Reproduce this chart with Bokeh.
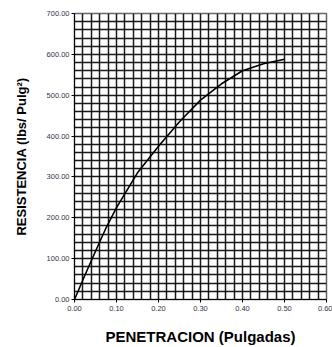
import numpy as np
from bokeh.plotting import figure
from bokeh.models import FixedTicker, PrintfTickFormatter, Range1d
from bokeh.embed import file_html
from bokeh.resources import INLINE

# Penetration (inches) and resistance (lbs/in^2) of the load curve
penetracion = [0.000, 0.025, 0.050, 0.075, 0.100, 0.150, 0.200, 0.250, 0.300, 0.350, 0.400, 0.450, 0.500]
resistencia = [0, 60, 118, 175, 225, 310, 375, 435, 488, 528, 560, 577, 588]

x_ticks = [0.0, 0.1, 0.2, 0.3, 0.4, 0.5, 0.6]
y_ticks = [0, 100, 200, 300, 400, 500, 600, 700]

FONT = "Liberation Sans"

p = figure(width=332, height=347, output_backend="svg", toolbar_location=None,
           x_range=Range1d(0, 0.6), y_range=Range1d(0, 700),
           min_border_left=74, min_border_right=6, min_border_top=13, min_border_bottom=47)
p.background_fill_color = "white"
p.border_fill_color = "white"
p.outline_line_color = "#666666"
p.outline_line_width = 1.5

# dense graph-paper grid
p.xgrid.ticker = FixedTicker(ticks=list(np.round(np.arange(0, 0.6001, 0.02), 3)))
p.ygrid.ticker = FixedTicker(ticks=list(np.arange(0, 701, 20)))
for g in (p.xgrid, p.ygrid):
    g.grid_line_color = "black"
    g.grid_line_width = 1.5
    g.grid_line_alpha = 0.9

p.xaxis.ticker = FixedTicker(ticks=x_ticks)
p.yaxis.ticker = FixedTicker(ticks=y_ticks)
p.xaxis.formatter = PrintfTickFormatter(format="%.2f")
p.yaxis.formatter = PrintfTickFormatter(format="%.2f")

for ax in (p.xaxis, p.yaxis):
    ax.axis_line_color = "black"
    ax.major_tick_line_color = "black"
    ax.major_tick_out = 3
    ax.major_tick_in = 0
    ax.minor_tick_line_color = None
    ax.major_label_text_font = FONT
    ax.major_label_text_font_size = "7.5px"
    ax.major_label_text_color = "#333344"
    ax.axis_label_text_font = FONT
    ax.axis_label_text_font_style = "bold"
    ax.axis_label_text_color = "black"

p.xaxis.axis_label = "PENETRACION (Pulgadas)"
p.xaxis.axis_label_text_font_size = "15px"
p.xaxis.axis_label_standoff = 14
p.xaxis.major_label_standoff = 3

p.yaxis.axis_label = "RESISTENCIA (lbs/ Pulg²)"
p.yaxis.axis_label_text_font_size = "13px"
p.yaxis.axis_label_standoff = 15
p.yaxis.major_label_standoff = 2

p.line(penetracion, resistencia, line_color="black", line_width=1.6)

open("out.html", "w").write(file_html(p, INLINE))
